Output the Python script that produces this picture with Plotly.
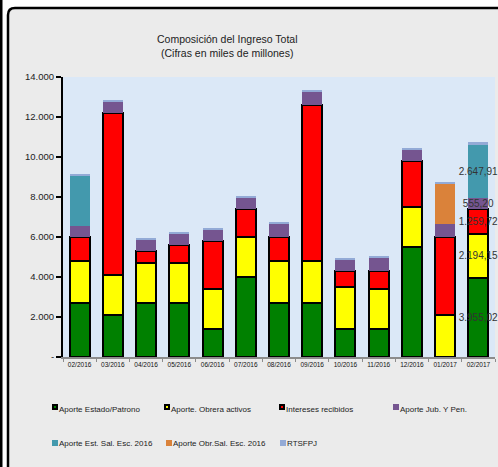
import plotly.graph_objects as go

months = ["02/2016", "03/2016", "04/2016", "05/2016", "06/2016", "07/2016", "08/2016",
          "09/2016", "10/2016", "11/2016", "12/2016", "01/2017", "02/2017"]

aporte_estado = [2700, 2100, 2700, 2700, 1400, 4000, 2700, 2700, 1400, 1400, 5500, 0, 3955.02]
aporte_obrera = [2100, 2000, 2000, 2000, 2000, 2000, 2100, 2100, 2100, 2000, 2000, 2100, 2194.15]
intereses = [1200, 8100, 600, 900, 2400, 1400, 1200, 7800, 800, 900, 2300, 3900, 1259.72]
aporte_jub = [550, 550, 570, 550, 550, 550, 650, 650, 550, 650, 550, 650, 555.20]
aporte_est_sal = [2530, 0, 0, 0, 0, 0, 0, 0, 0, 0, 0, 0, 2647.91]
aporte_obr_sal = [0, 0, 0, 0, 0, 0, 0, 0, 0, 0, 0, 2020, 0]
rtsfpj = [80, 100, 90, 90, 100, 100, 100, 100, 100, 100, 100, 90, 130]

y_ticks = [0, 2000, 4000, 6000, 8000, 10000, 12000, 14000]
y_tick_labels = ["-", "2.000", "4.000", "6.000", "8.000", "10.000", "12.000", "14.000"]

labelled_month = "02/2017"

FONT = "Liberation Sans, Arial, sans-serif"

W, H = 498, 467
PL, PR, PT, PB = 63, 495, 77, 357  # plot area in pixels


def px_x(p):
    return (p - PL) / (PR - PL)


def px_y(p):
    return (PB - p) / (PB - PT)


def es_fmt(v):
    s = f"{v:,.2f}"
    return s.replace(",", "X").replace(".", ",").replace("X", ".")


# name, values, colour, black outline, legend row, legend column, has labels
series = [
    ("Aporte Estado/Patrono", aporte_estado, "#008000", True, 0, 0, True),
    ("Aporte. Obrera activos", aporte_obrera, "#ffff00", True, 0, 1, True),
    ("Intereses recibidos", intereses, "#ff0000", True, 0, 2, True),
    ("Aporte Jub. Y Pen.", aporte_jub, "#755590", False, 0, 3, True),
    ("Aporte Est. Sal. Esc. 2016", aporte_est_sal, "#4399ad", False, 1, 0, True),
    ("Aporte Obr.Sal. Esc. 2016", aporte_obr_sal, "#da823a", False, 1, 1, False),
    ("RTSFPJ", rtsfpj, "#93aad6", False, 1, 2, False),
]

legend_cols = [[52, 164, 279, 393], [52, 166, 280]]
legend_rows = [(407, 409), (442.5, 443)]  # (symbol centre, text centre)

fig = go.Figure()
annotations = [
    dict(text="Composición del Ingreso Total", xref="paper", yref="paper",
         x=px_x(227), y=px_y(31), showarrow=False,
         font=dict(size=10.5, color="#222222", family=FONT)),
    dict(text="(Cifras en miles de millones)", xref="paper", yref="paper",
         x=px_x(227), y=px_y(45), showarrow=False,
         font=dict(size=10.5, color="#222222", family=FONT)),
]

for name, vals, color, outline, row, col, labelled in series:
    texts = [es_fmt(v) if (labelled and m == labelled_month) else "" for m, v in zip(months, vals)]
    fig.add_trace(go.Bar(
        x=months, y=vals, name=name, showlegend=False,
        marker=dict(color=color, line=dict(color="black", width=2 if outline else 0)),
        text=texts, textposition="inside", insidetextanchor="middle",
        constraintext="none", textangle=0, cliponaxis=False,
        insidetextfont=dict(size=10, color="#333333", family=FONT),
        hoverinfo="x+y+name",
    ))
    # legend entry: small square swatch + label
    sx = legend_cols[row][col]
    sy, ty = legend_rows[row]
    if outline:
        sw = dict(width=2, height=2, bordercolor="black", borderwidth=2, borderpad=0)
    else:
        sw = dict(width=6, height=6, borderwidth=0, borderpad=0)
    annotations.append(dict(
        text=" ", xref="paper", yref="paper", x=px_x(sx), y=px_y(sy),
        xanchor="left", yanchor="middle", showarrow=False, bgcolor=color,
        font=dict(size=2), **sw))
    annotations.append(dict(
        text=name, xref="paper", yref="paper", x=px_x(sx + 6), y=px_y(ty),
        xanchor="left", yanchor="middle", showarrow=False, borderpad=0,
        font=dict(size=8, color="#222222", family=FONT)))

shapes = [
    # left black edge of the page
    dict(type="line", xref="paper", yref="paper",
         x0=px_x(1), x1=px_x(1), y0=px_y(-5), y1=px_y(480),
         line=dict(color="black", width=3), layer="below"),
    # rounded chart frame
    dict(type="path", xref="paper", yref="paper", layer="below",
         path=(f"M {px_x(8)},{px_y(520)} L {px_x(8)},{px_y(15)} "
               f"Q {px_x(8)},{px_y(8)} {px_x(15)},{px_y(8)} "
               f"L {px_x(540)},{px_y(8)} L {px_x(540)},{px_y(520)} Z"),
         fillcolor="#ebebeb", line=dict(color="black", width=2.5)),
    # plot area background
    dict(type="rect", xref="paper", yref="paper", layer="below",
         x0=0, x1=1, y0=0, y1=1, fillcolor="#dbe8f7", line=dict(width=0)),
]

fig.update_layout(
    width=W, height=H,
    margin=dict(l=PL, r=W - PR, t=PT, b=H - PB, pad=0, autoexpand=False),
    paper_bgcolor="white",
    plot_bgcolor="rgba(0,0,0,0)",
    barmode="stack", bargap=0.4,
    showlegend=False,
    shapes=shapes,
    annotations=annotations,
    font=dict(family=FONT, color="#222222"),
    xaxis=dict(
        type="category", showgrid=False, automargin=False,
        showline=True, linecolor="#8c8c8c", linewidth=2,
        ticks="outside", tickson="boundaries", ticklen=3, tickcolor="#8c8c8c", tickwidth=1,
        tickfont=dict(size=6.5, color="#111111", family="Liberation Sans Narrow, " + FONT),
        tickangle=0,
    ),
    yaxis=dict(
        range=[0, 14000], tickvals=y_ticks, ticktext=y_tick_labels, automargin=False,
        showgrid=False, zeroline=False,
        showline=True, linecolor="black", linewidth=2,
        ticks="outside", ticklen=5, tickcolor="black", tickwidth=2,
        tickfont=dict(size=9.5, color="#222222", family=FONT),
    ),
)

fig.write_html(
    "out.html",
    config={"displayModeBar": False},
    post_script="document.body.style.margin='0px';document.body.style.overflow='hidden';",
)
